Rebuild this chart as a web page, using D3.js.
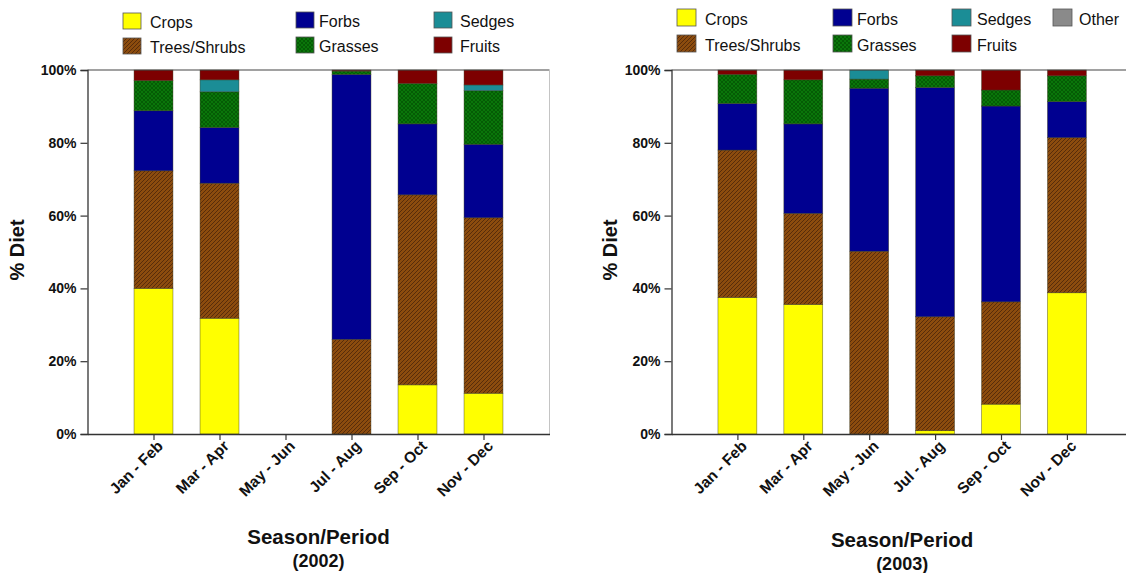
<!DOCTYPE html>
<html>
<head>
<meta charset="utf-8">
<script src="https://cdn.jsdelivr.net/npm/d3@7"></script>
<style>
  html, body { margin: 0; padding: 0; background: #fff; }
  svg text { font-family: "Liberation Sans", Arial, sans-serif; fill: #111; }
</style>
</head>
<body>
<svg id="chart" width="1126" height="573"></svg>
<script>
// Diet composition (% of diet) by two-month period
const periods = ["Jan - Feb", "Mar - Apr", "May - Jun", "Jul - Aug", "Sep - Oct", "Nov - Dec"];
const dietClasses = ["Crops", "Trees/Shrubs", "Forbs", "Grasses", "Sedges", "Fruits", "Other"];
const yTickValues = [0, 20, 40, 60, 80, 100];

// 2002
const crops2002   = [40.0, 31.8, 0, 0.0, 13.5, 11.2];
const trees2002   = [32.3, 37.1, 0, 26.0, 52.2, 48.2];
const forbs2002   = [16.5, 15.3, 0, 72.8, 19.5, 20.2];
const grasses2002 = [8.3, 9.8, 0, 0.9, 11.1, 14.7];
const sedges2002  = [0.0, 3.3, 0, 0.0, 0.0, 1.6];
const fruits2002  = [2.9, 2.7, 0, 0.3, 3.7, 4.1];
const other2002   = [0, 0, 0, 0, 0, 0];

// 2003
const crops2003   = [37.5, 35.6, 0.0, 0.9, 8.2, 38.8];
const trees2003   = [40.5, 25.0, 50.2, 31.3, 28.1, 42.6];
const forbs2003   = [12.8, 24.6, 44.8, 63.0, 53.8, 9.9];
const grasses2003 = [8.0, 12.1, 2.5, 3.2, 4.4, 7.1];
const sedges2003  = [0.0, 0.0, 2.5, 0.0, 0.0, 0.0];
const fruits2003  = [1.2, 2.7, 0.0, 1.6, 5.5, 1.6];
const other2003   = [0, 0, 0, 0, 0, 0];

const fills = {
  "Crops": "#ffff00",
  "Trees/Shrubs": "url(#hatchTrees)",
  "Forbs": "#000090",
  "Grasses": "url(#hatchGrass)",
  "Sedges": "#1b8d96",
  "Fruits": "#7d0000",
  "Other": "#8a8a8a"
};

const svg = d3.select("#chart");
const defs = svg.append("defs");

// Diagonal hatch for trees/shrubs
const pt = defs.append("pattern").attr("id", "hatchTrees")
  .attr("patternUnits", "userSpaceOnUse").attr("width", 4).attr("height", 4);
pt.append("rect").attr("width", 4).attr("height", 4).attr("fill", "#8c4c0e");
pt.append("path").attr("d", "M-1,1 l2,-2 M0,4 l4,-4 M3,5 l2,-2")
  .attr("stroke", "#52280a").attr("stroke-width", 0.9);

// Fine cross pattern for grasses
const pg = defs.append("pattern").attr("id", "hatchGrass")
  .attr("patternUnits", "userSpaceOnUse").attr("width", 4).attr("height", 4);
pg.append("rect").attr("width", 4).attr("height", 4).attr("fill", "#0a760a");
pg.append("path").attr("d", "M0,0 l4,4 M4,0 l-4,4")
  .attr("stroke", "#035003").attr("stroke-width", 0.7);

function buildRows(series) {
  return periods.map((p, i) => {
    const row = { period: p, pos: i + 1 };
    dietClasses.forEach((k, j) => { row[k] = series[j][i]; });
    return row;
  });
}

function drawPanel(cfg) {
  const g = svg.append("g");
  const x = d3.scaleLinear().domain([0, 7]).range([cfg.x0, cfg.x0 + cfg.step * 7]);
  const y = d3.scaleLinear().domain([0, 100]).range([434, 70]);
  const barW = cfg.step * 0.59;

  const rows = buildRows(cfg.series);
  const stacked = d3.stack().keys(dietClasses)(rows);

  // stacked bars
  g.selectAll("g.layer").data(stacked).join("g")
    .attr("class", "layer")
    .attr("fill", d => fills[d.key])
    .selectAll("rect").data(d => d.filter(s => s[1] - s[0] > 0)).join("rect")
    .attr("x", d => x(d.data.pos) - barW / 2)
    .attr("width", barW)
    .attr("y", d => y(d[1]))
    .attr("height", d => y(d[0]) - y(d[1]))
    .attr("stroke", "#3a3a20").attr("stroke-width", 0.6).attr("stroke-opacity", 0.7);

  // frame: top and right edges
  g.append("line").attr("x1", x(0)).attr("x2", x(7)).attr("y1", y(100)).attr("y2", y(100))
    .attr("stroke", "#444").attr("stroke-width", 1.2);
  g.append("line").attr("x1", x(7)).attr("x2", x(7)).attr("y1", y(100)).attr("y2", y(0))
    .attr("stroke", "#c4c4c4").attr("stroke-width", 1);

  // y axis
  const yAxis = g.append("g").attr("transform", `translate(${x(0)},0)`)
    .call(d3.axisLeft(y).tickValues(yTickValues).tickFormat(d => d + "%").tickSize(7).tickPadding(4));
  yAxis.select(".domain").attr("stroke", "#333").attr("stroke-width", 1.3);
  yAxis.selectAll(".tick line").attr("stroke", "#333").attr("stroke-width", 1.2);
  yAxis.selectAll("text").attr("font-size", 14).attr("font-weight", "bold")
    .attr("font-family", "Liberation Sans, Arial, sans-serif").attr("fill", "#111");

  // x axis
  const xAxis = g.append("g").attr("transform", `translate(0,${y(0)})`)
    .call(d3.axisBottom(x).tickValues(d3.range(1, 7)).tickFormat(d => periods[d - 1]).tickSize(6).tickSizeOuter(0));
  xAxis.select(".domain").attr("stroke", "#333").attr("stroke-width", 1.3);
  xAxis.selectAll(".tick line").attr("stroke", "#333").attr("stroke-width", 1.2);
  xAxis.selectAll("text")
    .attr("font-size", 15.5).attr("font-weight", "bold")
    .attr("font-family", "Liberation Sans, Arial, sans-serif").attr("fill", "#111")
    .attr("text-anchor", "end")
    .attr("dy", null).attr("y", 0)
    .attr("transform", "translate(10,13) rotate(-45)");

  // axis titles
  g.append("text").attr("x", (x(0) + x(7)) / 2).attr("y", cfg.titleY)
    .attr("text-anchor", "middle").attr("font-size", 20.5).attr("font-weight", "bold")
    .text("Season/Period");
  g.append("text").attr("x", (x(0) + x(7)) / 2).attr("y", cfg.titleY + 23)
    .attr("text-anchor", "middle").attr("font-size", 18).attr("font-weight", "bold")
    .text(cfg.year);
  g.append("text")
    .attr("transform", `translate(${cfg.yTitleX},250) rotate(-90)`)
    .attr("text-anchor", "middle").attr("font-size", 20).attr("font-weight", "bold")
    .text("% Diet");

  // legend
  const leg = g.append("g");
  cfg.legend.forEach(item => {
    const li = leg.append("g").attr("transform", `translate(${item.x},${item.y})`);
    li.append("rect").attr("width", cfg.sw).attr("height", cfg.sh)
      .attr("fill", fills[item.key]).attr("stroke", "#555").attr("stroke-width", 0.8);
    li.append("text").attr("x", item.tx).attr("y", cfg.sh - 1.5)
      .attr("font-size", 16).text(item.key);
  });
}

drawPanel({
  x0: 87.5, step: 66.0, year: "(2002)", titleY: 544, yTitleX: 24,
  series: [crops2002, trees2002, forbs2002, grasses2002, sedges2002, fruits2002, other2002],
  sw: 18, sh: 16,
  legend: [
    { key: "Crops", x: 123, y: 13, tx: 27 },
    { key: "Trees/Shrubs", x: 123, y: 38, tx: 27 },
    { key: "Forbs", x: 296, y: 12, tx: 23 },
    { key: "Grasses", x: 296, y: 37, tx: 23 },
    { key: "Sedges", x: 434, y: 12, tx: 26 },
    { key: "Fruits", x: 434, y: 37, tx: 26 }
  ]
});

drawPanel({
  x0: 671.5, step: 65.9, year: "(2003)", titleY: 547, yTitleX: 617,
  series: [crops2003, trees2003, forbs2003, grasses2003, sedges2003, fruits2003, other2003],
  sw: 19, sh: 17,
  legend: [
    { key: "Crops", x: 677, y: 9, tx: 28 },
    { key: "Trees/Shrubs", x: 677, y: 35, tx: 28 },
    { key: "Forbs", x: 833, y: 9, tx: 24 },
    { key: "Grasses", x: 833, y: 35, tx: 24 },
    { key: "Sedges", x: 952, y: 9, tx: 25 },
    { key: "Fruits", x: 952, y: 35, tx: 25 },
    { key: "Other", x: 1053, y: 9, tx: 26 }
  ]
});
</script>
</body>
</html>
